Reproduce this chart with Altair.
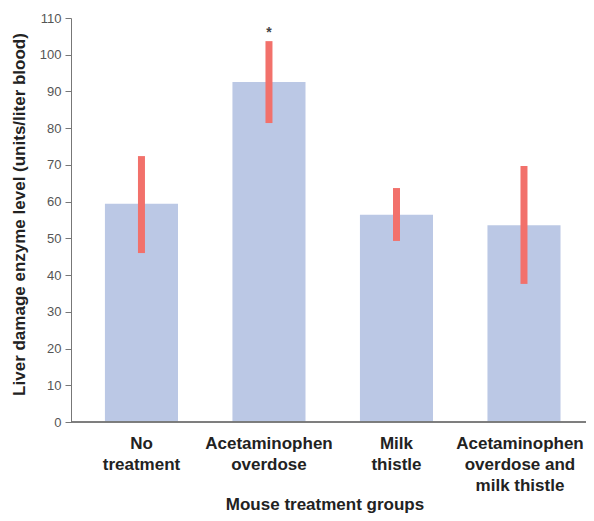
import altair as alt
import pandas as pd

groups = ["No|treatment", "Acetaminophen|overdose", "Milk|thistle", "Acetaminophen|overdose and|milk thistle"]
means = [59.4, 92.6, 56.4, 53.6]
err_low = [46.0, 81.4, 49.3, 37.6]
err_high = [72.4, 103.7, 63.7, 69.7]
marks = ["", "*", "", ""]
y_ticks = list(range(0, 111, 10))

df = pd.DataFrame({"group": groups, "mean": means, "lo": err_low, "hi": err_high, "mark": marks})

FONT = "Liberation Sans"
W, H = 507, 404

xscale = alt.Scale(paddingInner=0.427, paddingOuter=0.2016, align=0.66)
yscale = alt.Scale(domain=[0, 110], nice=False)

x_axis = alt.Axis(title="Mouse treatment groups", labelAngle=0,
                  labelExpr="split(datum.label, '|')",
                  labelFont=FONT, labelFontSize=17, labelFontWeight="bold",
                  labelColor="#222", labelLineHeight=21, labelPadding=13,
                  labelBaseline="top",
                  labelOffset={"condition": {"test": "indexof(datum.label, 'milk') >= 0", "value": -4},
                               "value": 0},
                  ticks=False, domain=False,
                  titleFont=FONT, titleFontSize=17, titleFontWeight="bold",
                  titleColor="#222", titleY=87, titleBaseline="alphabetic")

y_axis = alt.Axis(title="Liver damage enzyme level (units/liter blood)",
                  values=y_ticks, grid=False,
                  labelFont=FONT, labelFontSize=13, labelColor="#555",
                  labelPadding=4, tickSize=6, tickColor="#777",
                  domainColor="#777",
                  titleFont=FONT, titleFontSize=17, titleFontWeight="bold",
                  titleColor="#222", titleX=-47, titleY=196, titleAngle=270,
                  titleAlign="center", titleBaseline="alphabetic")

bars = alt.Chart(df).mark_bar(color="#BBC8E5").encode(
    x=alt.X("group:N", sort=groups, scale=xscale, axis=x_axis),
    y=alt.Y("mean:Q", scale=yscale, axis=y_axis),
)

errs = alt.Chart(df).mark_bar(color="#F2716B", size=7).encode(
    x=alt.X("group:N", sort=groups, scale=xscale, axis=x_axis),
    y=alt.Y("lo:Q", scale=yscale, axis=y_axis),
    y2="hi:Q",
)

stars = alt.Chart(df).mark_text(font=FONT, fontSize=14, fontWeight="bold", color="#444",
                                baseline="middle", dy=-8).encode(
    x=alt.X("group:N", sort=groups, scale=xscale, axis=x_axis),
    y=alt.Y("hi:Q", scale=yscale, axis=y_axis),
    text="mark:N",
)

baseline = alt.Chart(df).mark_rule(color="#777", strokeWidth=1).encode(
    x=alt.value(0), x2=alt.value(W + 8), y=alt.value(H),
)

chart = alt.layer(bars, errs, stars, baseline).properties(
    width=W, height=H,
    autosize=alt.AutoSizeParams(type="none"),
    padding={"left": 63, "top": 10, "right": 8, "bottom": 91},
).configure_view(stroke=None)

chart.save("out.html", embed_options={"renderer": "svg", "actions": False})
